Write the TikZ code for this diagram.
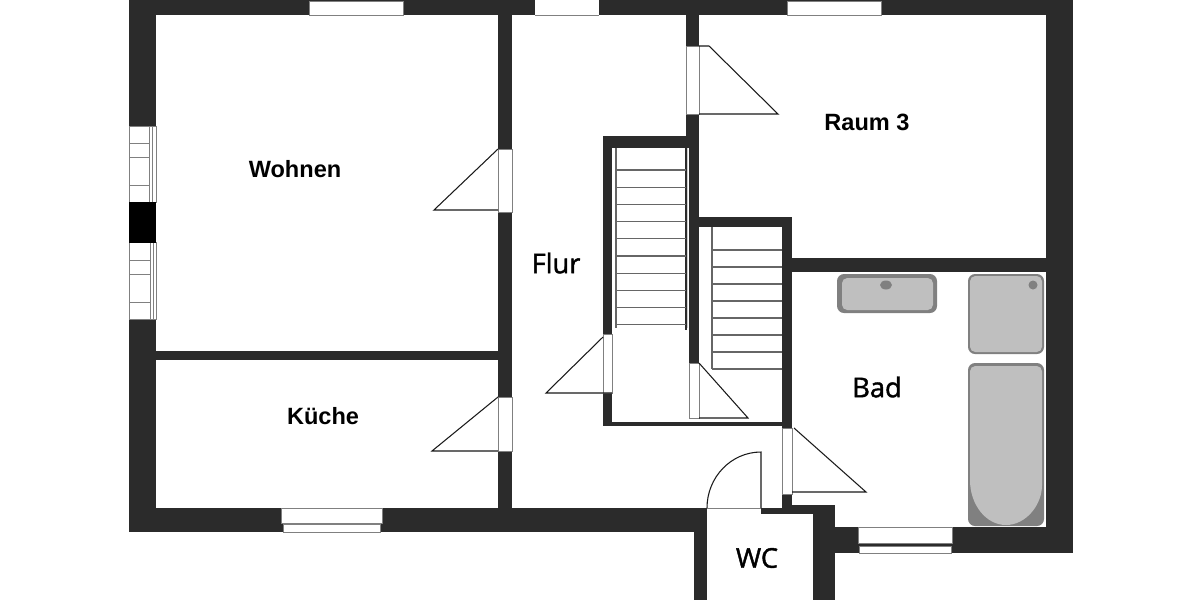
\documentclass[tikz,border=0pt]{standalone}
\usepackage{fontspec}
\setmainfont{Liberation Sans}
\newfontface\signfont[FakeBold=1.5]{Open Sans}

\begin{document}
\begin{tikzpicture}[x=0.02cm,y=-0.02cm,line width=0.6pt]
    \tikzstyle{wall}=[fill=black!83]
    \tikzstyle{opening}=[fill=white,draw=black!50,line width=0.5pt]
    \tikzstyle{swing}=[draw=black!90,line width=0.6pt]
    \tikzstyle{tread}=[draw=black!60,line width=0.6pt]
    \tikzstyle{fixture}=[fill=black!50,rounded corners=4pt]
    \tikzstyle{basin}=[fill=black!25,rounded corners=3pt]
    \tikzstyle{boldroom}=[font=\fontsize{13.4}{15}\selectfont\bfseries]
    \tikzstyle{plainroom}=[font=\signfont\fontsize{15.5}{18}\selectfont]

    \useasboundingbox (0,0) rectangle (1200,600);

    % outer walls
    \fill[wall] (129,0) rectangle (1073,15);
    \fill[wall] (129,0) rectangle (156,532);
    \fill[wall] (1046,0) rectangle (1073,553);
    \fill[wall] (129,508) rectangle (707,532);
    \fill[wall] (694,508) rectangle (707,600);
    \fill[wall] (813,505) rectangle (835,600);
    \fill[wall] (761,508) rectangle (835,514);
    \fill[wall] (782,505) rectangle (833,514);
    \fill[wall] (833,527) rectangle (1073,553);
    \fill[wall] (813,505) rectangle (833,553);

    % inner walls
    \fill[wall] (498,15) rectangle (512,508);
    \fill[wall] (156,351) rectangle (498,360);
    \fill[wall] (686,15) rectangle (699,148);
    \fill[wall] (689,148) rectangle (699,363);
    \fill[wall] (792,258) rectangle (1046,272);

    % stair walls
    \fill[wall] (603,136) rectangle (686,148);
    \fill[wall] (603,136) rectangle (612,426);
    \fill[wall] (603,422) rectangle (792,426);
    \fill[wall] (699,217) rectangle (792,227);
    \fill[wall] (782,217) rectangle (792,505);

    % windows
    \filldraw[opening] (309,1) rectangle (403,15);
    \fill[white] (535,0) rectangle (599,15);
    \draw[opening] (535,15) -- (599,15);
    \filldraw[opening] (787,1) rectangle (881,15);
    \filldraw[opening] (281,508) rectangle (382,523);
    \filldraw[opening] (283,524) rectangle (380,532);
    \filldraw[opening] (858,527) rectangle (952,543);
    \filldraw[opening] (859,546) rectangle (951,553);

    \filldraw[opening] (129,126) rectangle (156,202);
    \filldraw[opening] (129,242) rectangle (156,319);
    \fill[black] (129,202) rectangle (156,243);
    \draw[opening] (149,126) -- (149,202) (152,126) -- (152,202);
    \draw[opening] (150,243) -- (150,319) (153,243) -- (153,319);
    \foreach \y in {143,157,185}
        \draw[opening] (129,\y) -- (149,\y);
    \foreach \y in {260,274,302}
        \draw[opening] (129,\y) -- (150,\y);

    % door gaps
    \filldraw[opening] (498,149) rectangle (512,212);
    \filldraw[opening] (498,397) rectangle (512,451);
    \filldraw[opening] (686,46) rectangle (699,114);
    \filldraw[opening] (603,334) rectangle (612,393);
    \filldraw[opening] (689,363) rectangle (699,418);
    \filldraw[opening] (782,428) rectangle (792,494);

    % door leaves
    \draw[swing] (498,149) -- (434,210) -- (498,210);
    \draw[swing] (498,397) -- (432,451) -- (498,451);
    \draw[swing] (699,46) -- (709,46) -- (778,114) -- (699,114);
    \draw[swing] (603,337) -- (546,393) -- (612,393);
    \draw[swing] (699,363) -- (748,418) -- (699,418);
    \draw[swing] (794,428) -- (866,492) -- (792,492);
    \draw[swing] (707,508) arc[start angle=180,end angle=90,x radius=54,y radius=-56] -- (761,508);
    \draw[opening] (707,508) -- (761,508);

    % stairs
    \fill[white] (612,148) rectangle (686,328);
    \fill[black!20] (685,148) rectangle (688,328);
    \draw[tread] (616,148) -- (616,328);
    \draw[wall,draw=black!83] (686,148) -- (686,330);
    \foreach \i in {0,...,9}
        \draw[tread] (616,170+17.2*\i) -- (686,170+17.2*\i);

    \draw[tread] (712,227) -- (712,369);
    \foreach \i in {0,...,7}
        \draw[tread] (712,250+17*\i) -- (782,250+17*\i);

    % sink
    \fill[fixture] (837,274) rectangle (937,313);
    \fill[basin] (842,278) rectangle (933,310);
    \fill[black!50] (886,285) ellipse [x radius=6,y radius=4.5];

    % shower
    \fill[fixture] (968,274) rectangle (1044,354);
    \fill[basin] (970,276) rectangle (1042,352);
    \fill[black!50] (1033,285) circle [radius=4.5];

    % tub
    \fill[fixture] (968,363) rectangle (1044,526);
    \fill[black!25] (970,480) [rounded corners=3pt] -- (970,366) -- (1042,366) -- (1042,480) [sharp corners] arc[start angle=0,end angle=180,x radius=36,y radius=45] -- cycle;

    % labels
    \node[boldroom] (wohnen) at (295,169) {Wohnen};
    \node[boldroom] (kueche) at (323,416) {Küche};
    \node[boldroom] (raum) at (867,122) {Raum 3};
    \node[plainroom] (flur) at (556,263) {Flur};
    \node[plainroom] (bad) at (877,387) {Bad};
    \node[plainroom] (wc) at (757,558) {WC};
\end{tikzpicture}
\end{document}
